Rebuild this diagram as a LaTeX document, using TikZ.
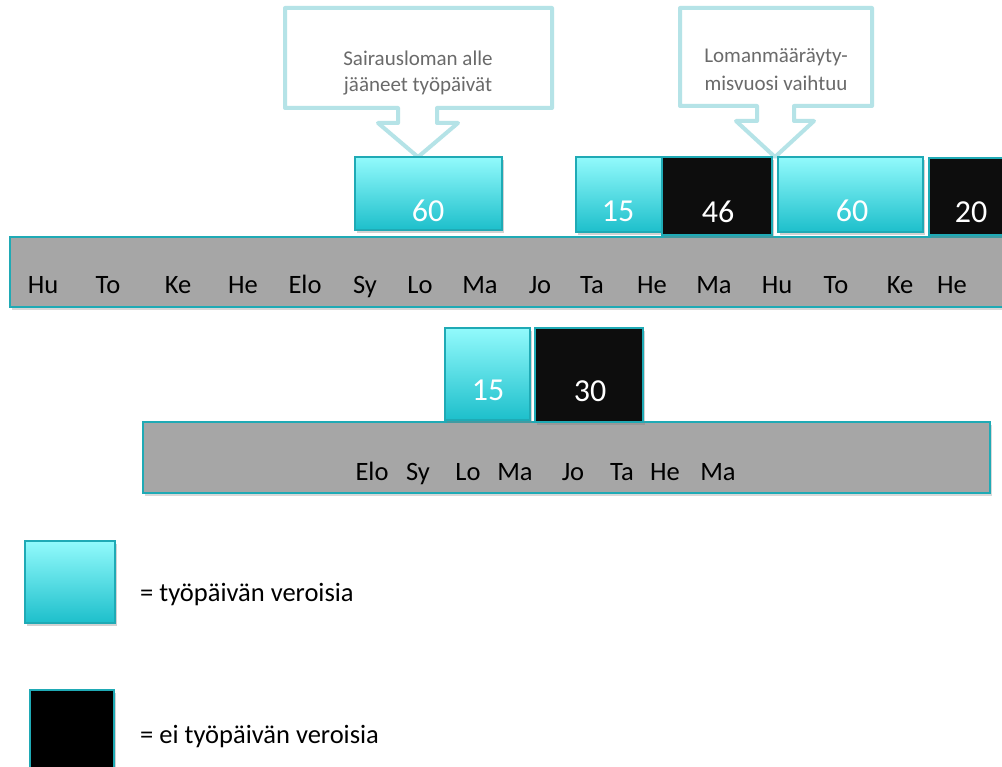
\documentclass[tikz,border=0pt]{standalone}
\usepackage{fontspec}
\setmainfont{Carlito}
\usetikzlibrary{shadows}
\definecolor{tealline}{HTML}{1FAAB5}
\definecolor{cyantop}{HTML}{92FAFC}
\definecolor{cyanbot}{HTML}{1DBFCB}
\definecolor{barfill}{HTML}{A6A6A6}
\definecolor{callline}{HTML}{B5E3E7}
\definecolor{calltext}{HTML}{6A6A6A}
\tikzset{
  workday/.style={draw=tealline, line width=1.5pt, top color=cyantop, bottom color=cyanbot,
    inner sep=0pt, drop shadow={opacity=0.35, shadow xshift=1.5pt, shadow yshift=-3pt}},
  otherday/.style={draw=tealline, line width=1.5pt, fill=black!95, inner sep=0pt,
    drop shadow={opacity=0.35, shadow xshift=1.5pt, shadow yshift=-3pt}},
  monthbar/.style={draw=tealline, line width=1.5pt, fill=barfill, inner sep=0pt,
    drop shadow={opacity=0.3, shadow xshift=1.5pt, shadow yshift=-3pt}},
  daynum/.style={text=white, font=\fontsize{32}{32}\selectfont, anchor=base, inner sep=0pt},
  month/.style={font=\fontsize{26.5}{26.5}\selectfont, anchor=base, inner sep=0pt},
  callout/.style={draw=callline, line width=4pt, fill=white, line join=round},
  calltxt/.style={text=calltext, font=\fontsize{21}{25}\selectfont, align=center, anchor=base, inner sep=0pt},
  legend/.style={font=\fontsize{26.5}{26.5}\selectfont, anchor=base west, inner sep=0pt}
}
\begin{document}
\begin{tikzpicture}[x=1pt, y=-1pt]
\clip (0,0) rectangle (1002,767);
\fill[white] (0,0) rectangle (1002,767);
% callouts
\draw[callout] (285,8) -- (552,8) -- (552,108) -- (437,108) -- (437,123) -- (458,123) -- (418,157)
  -- (378,123) -- (398,123) -- (398,108) -- (285,108) -- cycle;
\node[calltxt] (c1a) at (418,66) {Sairausloman alle};
\node[calltxt] (c1b) at (418,92) {jääneet työpäivät};
\draw[callout] (680,8) -- (872,8) -- (872,106) -- (794,106) -- (794,121) -- (814,121) -- (775,157)
  -- (736,121) -- (757,121) -- (757,106) -- (680,106) -- cycle;
\node[calltxt] (c2a) at (776,63) {Lomanmääräyty-};
\node[calltxt] (c2b) at (776,91) {misvuosi vaihtuu};
% upper year
\node[monthbar, minimum width=1000pt, minimum height=70pt] (bar1) at (510,272) {};
\node[workday, minimum width=147pt, minimum height=73pt] (t60a) at (428.5,193.5) {};
\node[workday, minimum width=86pt, minimum height=75pt] (t15) at (619,194.5) {};
\node[otherday, minimum width=110pt, minimum height=78pt] (t46) at (717,196) {};
\node[workday, minimum width=145pt, minimum height=75pt] (t60b) at (850.5,194.5) {};
\node[otherday, minimum width=84pt, minimum height=77pt] (t20) at (971,196.5) {};
\node[daynum] (n60a) at (428,222) {60};
\node[daynum] (n15) at (618,222) {15};
\node[daynum] (n46) at (718,223) {46};
\node[daynum] (n60b) at (852,222) {60};
\node[daynum] (n20) at (971,223) {20};
\foreach \m/\x in {Hu/43, To/108, Ke/178, He/243, Elo/305, Sy/365, Lo/420, Ma/480,
  Jo/540, Ta/592, He/652, Ma/714, Hu/777, To/836, Ke/900, He/952}
  \node[month] at (\x,294) {\m};
% lower year
\node[monthbar, minimum width=847pt, minimum height=71pt] (bar2) at (566.5,457.5) {};
\node[workday, minimum width=85pt, minimum height=92pt] (b15) at (487.5,374) {};
\node[otherday, minimum width=108pt, minimum height=94pt] (b30) at (589,375) {};
\node[daynum] (m15) at (488,400) {15};
\node[daynum] (m30) at (590,402) {30};
\foreach \m/\x in {Elo/372, Sy/418, Lo/468, Ma/515, Jo/573, Ta/622, He/665, Ma/718}
  \node[month] at (\x,480) {\m};
% legend
\node[workday, minimum width=90pt, minimum height=82pt] (key1) at (70,582) {};
\node[legend] (key1txt) at (140,601) {= työpäivän veroisia};
\node[otherday, fill=black, minimum width=84pt, minimum height=80pt] (key2) at (72,730) {};
\node[legend] (key2txt) at (140,743) {= ei työpäivän veroisia};
\end{tikzpicture}
\end{document}
